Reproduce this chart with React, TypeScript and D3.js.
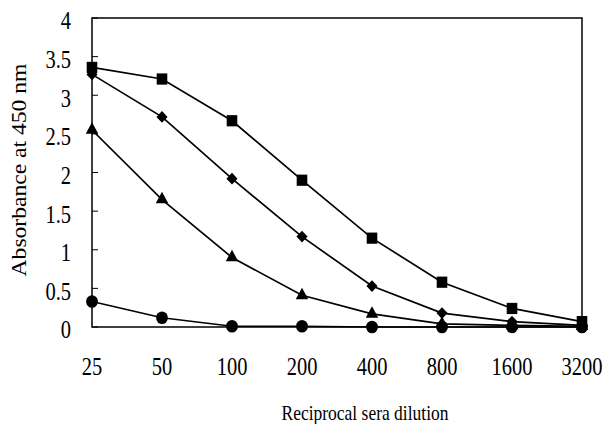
import React from "react";
import * as d3 from "d3";

// dilution categories on the x axis
const dilutions = ["25", "50", "100", "200", "400", "800", "1600", "3200"];

// absorbance readings, one array per serum
const squareSeries = [3.36, 3.21, 2.67, 1.9, 1.15, 0.58, 0.24, 0.07];
const diamondSeries = [3.27, 2.72, 1.92, 1.17, 0.53, 0.18, 0.07, 0.02];
const triangleSeries = [2.55, 1.65, 0.9, 0.41, 0.17, 0.04, 0.02, 0.01];
const circleSeries = [0.33, 0.12, 0.01, 0.01, 0.0, 0.0, 0.0, 0.0];

const yTicks = [0, 0.5, 1, 1.5, 2, 2.5, 3, 3.5, 4];

const W = 607;
const H = 424;
const margin = { top: 18, right: 25, bottom: 97, left: 92 };

const FONT = "Liberation Serif, DejaVu Serif, serif";
// the scanned figure is a little taller than wide, text looks stretched
const STRETCH = 1.18;

export default function App() {
  const x = d3
    .scalePoint<string>()
    .domain(dilutions)
    .range([margin.left, W - margin.right]);
  const y = d3
    .scaleLinear()
    .domain([0, 4])
    .range([H - margin.bottom, margin.top]);

  const line = d3
    .line<number>()
    .x((_, i) => x(dilutions[i])!)
    .y((d) => y(d));

  // rotate = 45 turns the square into the diamond marker
  const series = [
    { values: circleSeries, shape: d3.symbolCircle, size: 110, rotate: 0 },
    { values: triangleSeries, shape: d3.symbolTriangle, size: 68, rotate: 0 },
    { values: diamondSeries, shape: d3.symbolSquare, size: 62, rotate: 45 },
    { values: squareSeries, shape: d3.symbolSquare, size: 112, rotate: 0 },
  ];

  return (
    <svg
      width={W}
      height={H}
      style={{
        position: "absolute",
        left: 0,
        top: 0,
        background: "#fff",
        fontFamily: FONT,
      }}
    >
      {/* frame */}
      <rect
        x={margin.left}
        y={margin.top}
        width={W - margin.left - margin.right}
        height={H - margin.top - margin.bottom}
        fill="none"
        stroke="#000"
        strokeWidth={1.5}
      />

      {/* y ticks + labels */}
      {yTicks.map((t) => (
        <g key={t}>
          <line
            x1={margin.left}
            x2={margin.left + 6}
            y1={y(t)}
            y2={y(t)}
            stroke="#000"
            strokeWidth={1}
          />
          <text
            transform={`translate(${margin.left - 21},${y(t) + 3}) scale(1,${STRETCH})`}
            dy="0.35em"
            textAnchor="end"
            fontSize={20.5}
          >
            {t}
          </text>
        </g>
      ))}

      {/* x labels */}
      {dilutions.map((d) => (
        <text
          key={d}
          transform={`translate(${x(d)},375) scale(1,${STRETCH})`}
          textAnchor="middle"
          fontSize={20.5}
        >
          {d}
        </text>
      ))}

      {/* series */}
      {series.map((s, si) => (
        <g key={si}>
          <path
            d={line(s.values)!}
            fill="none"
            stroke="#000"
            strokeWidth={1.7}
          />
          {s.values.map((v, i) => (
            <path
              key={i}
              transform={`translate(${x(dilutions[i])},${y(v)}) scale(1,1.06) rotate(${s.rotate})`}
              d={d3.symbol().type(s.shape).size(s.size)()!}
              fill="#000"
            />
          ))}
        </g>
      ))}

      {/* axis titles */}
      <text
        transform={`translate(365,420) scale(1,${STRETCH})`}
        textAnchor="middle"
        fontSize={17.5}
      >
        Reciprocal sera dilution
      </text>
      <text
        transform={`translate(26,170) rotate(-90) scale(${STRETCH},1)`}
        textAnchor="middle"
        fontSize={20}
      >
        Absorbance at 450 nm
      </text>
    </svg>
  );
}
